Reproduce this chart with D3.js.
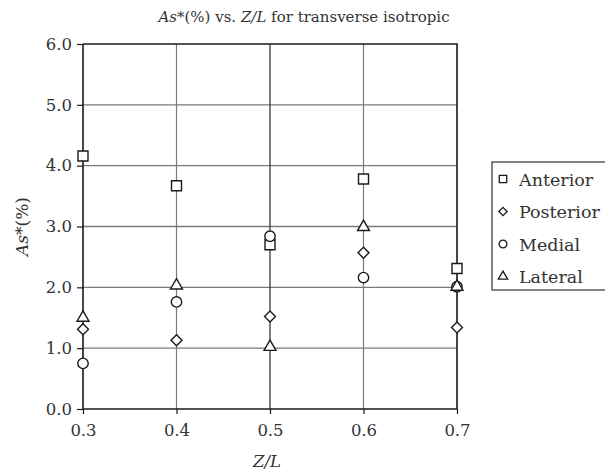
<!DOCTYPE html>
<html>
<head>
<meta charset="utf-8">
<script src="https://cdn.jsdelivr.net/npm/d3@7/dist/d3.min.js"></script>
<style>
  html, body { margin: 0; padding: 0; background: #fff; }
  svg { display: block; font-family: "DejaVu Serif", "Liberation Serif", serif; }
</style>
</head>
<body>
<svg id="chart" width="605" height="473"></svg>
<script>
// Z/L positions along the x axis
const zl = [0.3, 0.4, 0.5, 0.6, 0.7];
const xTicks = [0.3, 0.4, 0.5, 0.6, 0.7];
const yTicks = [0, 1, 2, 3, 4, 5, 6];

// As*(%) per location
const anterior  = [4.16, 3.67, 2.70, 3.78, 2.31];
const posterior = [1.31, 1.13, 1.52, 2.57, 1.34];
const medial    = [0.75, 1.76, 2.84, 2.16, 2.01];
const lateral   = [1.50, 2.03, 1.02, 2.99, 2.01];

// square-proportioned diamond (a square turned 45 degrees)
const symbolRhombus = {
  draw(context, size) {
    const r = Math.sqrt(size / 2);
    context.moveTo(0, -r);
    context.lineTo(r, 0);
    context.lineTo(0, r);
    context.lineTo(-r, 0);
    context.closePath();
  }
};

const seriesNames = ["Anterior", "Posterior", "Medial", "Lateral"];
const seriesValues = [anterior, posterior, medial, lateral];
const seriesSymbols = [d3.symbolSquare, symbolRhombus, d3.symbolCircle, d3.symbolTriangle];
const seriesSizes = [100, 60, 85, 62];
const legendSizes = [55, 34, 48, 38];

const FONT = "DejaVu Serif, Liberation Serif, serif";
const TEXT = "#333";

const svg = d3.select("#chart");
const margin = { left: 83, right: 148, top: 44, bottom: 64 };
const W = 605, H = 473;

const x = d3.scaleLinear().domain([0.3, 0.7]).range([margin.left, W - margin.right]);
const y = d3.scaleLinear().domain([0, 6]).range([H - margin.bottom, margin.top]);

// horizontal grid
svg.append("g")
  .selectAll("line")
  .data(yTicks.filter(v => v > 0 && v < 6))
  .join("line")
  .attr("x1", x(0.3)).attr("x2", x(0.7))
  .attr("y1", d => y(d)).attr("y2", d => y(d))
  .attr("stroke", "#7a7a7a").attr("stroke-width", 1.3);

// vertical grid
svg.append("g")
  .selectAll("line")
  .data(xTicks.filter(v => v > 0.3 && v < 0.7))
  .join("line")
  .attr("x1", d => x(d)).attr("x2", d => x(d))
  .attr("y1", y(0)).attr("y2", y(6))
  .attr("stroke", d => Math.abs(d - 0.5) < 1e-9 ? "#2a2a2a" : "#7a7a7a")
  .attr("stroke-width", 1.2);

// frame: top and right edges
svg.append("path")
  .attr("d", `M${x(0.3)},${y(6)}H${x(0.7)}V${y(0)}`)
  .attr("fill", "none").attr("stroke", "#1a1a1a").attr("stroke-width", 1.6);

// axes
const yAxis = d3.axisLeft(y).tickValues(yTicks).tickFormat(d3.format(".1f"))
  .tickSize(6).tickPadding(5);
const gy = svg.append("g").attr("transform", `translate(${x(0.3)},0)`).call(yAxis);

const xAxis = d3.axisBottom(x).tickValues(xTicks).tickFormat(d3.format(".1f"))
  .tickSize(5).tickPadding(10);
const gx = svg.append("g").attr("transform", `translate(0,${y(0)})`).call(xAxis);

[gx, gy].forEach(g => {
  g.attr("font-family", FONT).attr("font-size", 16.5);
  g.select(".domain").attr("stroke", "#1a1a1a").attr("stroke-width", 1.6);
  g.selectAll(".tick line").attr("stroke", "#1a1a1a").attr("stroke-width", 1.2);
  g.selectAll(".tick text").attr("fill", TEXT);
});
gy.select(".domain").attr("d", `M0,${y(0)}V${y(6)}`);
gx.select(".domain").attr("d", `M${x(0.3)},0H${x(0.7)}`);

// markers
seriesValues.forEach((vals, i) => {
  svg.append("g")
    .selectAll("path")
    .data(vals.map((v, j) => ({ x: zl[j], y: v })))
    .join("path")
    .attr("transform", d => `translate(${x(d.x)},${y(d.y)})`)
    .attr("d", d3.symbol().type(seriesSymbols[i]).size(seriesSizes[i]))
    .attr("fill", "#fff")
    .attr("stroke", "#1a1a1a")
    .attr("stroke-width", 1.4);
});

// title
const title = svg.append("text")
  .attr("x", 304).attr("y", 22)
  .attr("text-anchor", "middle")
  .attr("font-family", FONT).attr("font-size", 15).attr("fill", TEXT);
title.append("tspan").attr("font-style", "italic").text("As");
title.append("tspan").text("*(%) vs. ");
title.append("tspan").attr("font-style", "italic").text("Z/L");
title.append("tspan").text(" for transverse isotropic");

// x-axis label
svg.append("text")
  .attr("x", x(0.5) - 3).attr("y", 467)
  .attr("text-anchor", "middle")
  .attr("font-family", FONT).attr("font-size", 16.5).attr("font-style", "italic").attr("fill", TEXT)
  .text("Z/L");

// y-axis label
const yl = svg.append("text")
  .attr("transform", `translate(28,${(y(0) + y(6)) / 2}) rotate(-90)`)
  .attr("text-anchor", "middle")
  .attr("font-family", FONT).attr("font-size", 17).attr("fill", TEXT);
yl.append("tspan").attr("font-style", "italic").text("As");
yl.append("tspan").text("*(%)");

// legend
const lg = svg.append("g");
lg.append("rect")
  .attr("x", 492).attr("y", 162).attr("width", 120).attr("height", 128)
  .attr("fill", "#fff").attr("stroke", "#333").attr("stroke-width", 1.2);
seriesNames.forEach((name, i) => {
  const cy = 179 + i * 32.5;
  lg.append("path")
    .attr("transform", `translate(503,${cy})`)
    .attr("d", d3.symbol().type(seriesSymbols[i]).size(legendSizes[i]))
    .attr("fill", "#fff").attr("stroke", "#1a1a1a").attr("stroke-width", 1.3);
  lg.append("text")
    .attr("x", 519).attr("y", cy + 6.5)
    .attr("font-family", FONT).attr("font-size", 17.5).attr("fill", TEXT)
    .text(name);
});
</script>
</body>
</html>
